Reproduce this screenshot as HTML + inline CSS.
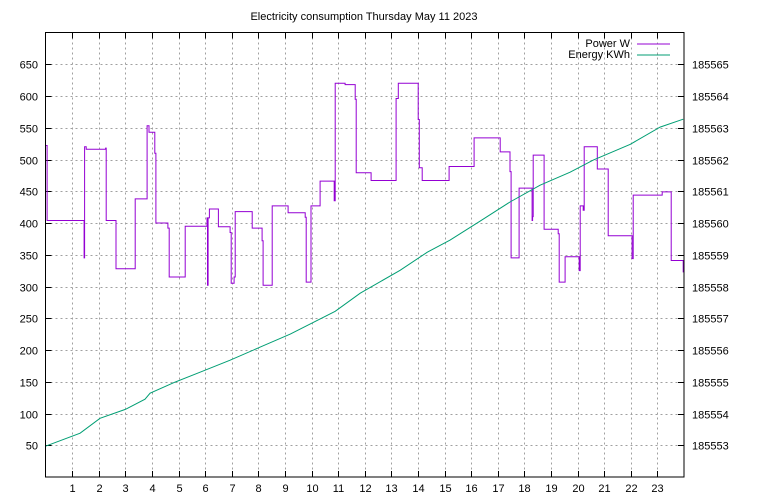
<!DOCTYPE html>
<html><head><meta charset="utf-8"><style>
html,body{margin:0;padding:0;background:#fff;}
svg{display:block;font-family:"Liberation Sans","DejaVu Sans",sans-serif;}
</style></head><body>
<svg id="chart" width="768" height="500" viewBox="0 0 768 500" xmlns="http://www.w3.org/2000/svg">
<rect width="768" height="500" fill="#fff"/>
<text x="364" y="20" font-size="11" text-anchor="middle">Electricity consumption Thursday May 11 2023</text>
<g id="grid"></g>
<g id="axes"></g>
<g id="series"></g>
<rect x="45.5" y="32.5" width="638.5" height="444.5" fill="none" stroke="#000" stroke-width="1"/>
<g>
<text x="630" y="47" font-size="11" text-anchor="end">Power W</text>
<line x1="637" y1="44" x2="670" y2="44" stroke="#9400d3" stroke-width="1"/>
<text x="630" y="58" font-size="11" text-anchor="end">Energy KWh</text>
<line x1="637" y1="55" x2="670" y2="55" stroke="#009e73" stroke-width="1"/>
</g>
</svg>
<script>
const xTicks = [1,2,3,4,5,6,7,8,9,10,11,12,13,14,15,16,17,18,19,20,21,22,23];
const yTicks = [50,100,150,200,250,300,350,400,450,500,550,600,650];
const y2Ticks = [185553,185554,185555,185556,185557,185558,185559,185560,185561,185562,185563,185564,185565];
const powerHours = [0,0.06,1.45,1.47,1.53,2.26,2.28,2.65,3.37,3.82,3.89,4.11,4.15,4.6,4.65,5.25,6.07,6.09,6.11,6.16,6.5,6.94,6.98,7.09,7.13,7.77,8.14,8.18,8.52,9.12,9.76,9.8,9.98,10.32,10.85,10.89,11.26,11.64,11.68,12.24,13.18,13.26,14.01,14.05,14.16,15.17,16.11,17.09,17.46,17.5,17.8,18.29,18.31,18.33,18.74,19.27,19.31,19.53,20.06,20.1,20.21,20.25,20.74,21.15,22.05,22.09,23.18,23.52,23.97];
const powerValues = [522,404,345,520,516,518,404,328,438,553,543,510,400,392,315,395,408,302,408,422,394,385,305,315,418,392,372,302,427,416,409,307,427,466,435,620,618,595,479,467,596,620,563,487,467,489,534,512,481,345,455,404,410,507,390,383,307,347,325,427,420,520,485,380,344,444,449,341,323];
const energyHours = [0,1.3,2.05,3.0,3.74,3.93,4.87,5.81,6.94,8.07,9.2,10.89,11.83,13.33,14.35,15.21,16.34,17.46,18.59,19.72,20.59,21.98,23.1,23.97];
const energyValues = [185552.97,185553.38,185553.85,185554.13,185554.45,185554.64,185554.99,185555.30,185555.68,185556.09,185556.50,185557.22,185557.79,185558.51,185559.08,185559.46,185560.06,185560.66,185561.19,185561.60,185561.98,185562.48,185563.02,185563.27];

const L=45.5,R=684,T=32.5,B=477;
const xs=h=>L+(h/24)*(R-L);
const ys=v=>B-(v/700)*(B-T);
const y2s=v=>B-((v-185552)/14)*(B-T);
const NS='http://www.w3.org/2000/svg';
function mk(tag,attrs,parent){const e=document.createElementNS(NS,tag);for(const k in attrs)e.setAttribute(k,attrs[k]);parent.appendChild(e);return e;}
const grid=document.getElementById('grid'),axes=document.getElementById('axes'),series=document.getElementById('series');

xTicks.forEach(h=>{
  const x=Math.round(xs(h))+0.5;
  const g=mk('line',{x1:x,y1:T,x2:x,y2:B,stroke:'#a0a0a0','stroke-dasharray':'2,3'},grid);
  
  
  const t1=mk('line',{x1:x,y1:B,x2:x,y2:B-6,stroke:'#000'},axes);
  
  
  const t2=mk('line',{x1:x,y1:T,x2:x,y2:T+6,stroke:'#000'},axes);
  
  
  const lb=mk('text',{x:x,y:492,'font-size':11,'text-anchor':'middle'},axes);
  lb.textContent=h;
  
  
});
yTicks.forEach(v=>{
  const y=Math.round(ys(v))+0.5;
  const g=mk('line',{x1:L,y1:y,x2:R,y2:y,stroke:'#a0a0a0','stroke-dasharray':'2,3'},grid);
  
  
  const t=mk('line',{x1:L,y1:y,x2:L+6,y2:y,stroke:'#000'},axes);
  
  
  const lb=mk('text',{x:38,y:y+4,'font-size':11,'text-anchor':'end'},axes);
  lb.textContent=v;
  
  
});
y2Ticks.forEach(v=>{
  const y=Math.round(y2s(v))+0.5;
  const t=mk('line',{x1:R,y1:y,x2:R-6,y2:y,stroke:'#000'},axes);
  
  
  const lb=mk('text',{x:692,y:y+4,'font-size':11,'text-anchor':'start'},axes);
  lb.textContent=v;
  
  
});

// power as steps
let d='';
for(let i=0;i<powerHours.length;i++){
  const x=xs(powerHours[i]).toFixed(1),y=ys(powerValues[i]).toFixed(1);
  if(i===0)d+='M'+x+','+y;else d+='H'+x+'V'+y;
}
d+='H'+xs(24).toFixed(1);
const pp=mk('path',{d:d,fill:'none',stroke:'#9400d3','stroke-width':1},series);



let d2='';
energyHours.forEach((h,i)=>{d2+=(i?'L':'M')+xs(h).toFixed(1)+','+y2s(energyValues[i]).toFixed(1);});
const ep=mk('path',{d:d2,fill:'none',stroke:'#009e73','stroke-width':1},series);


</script>
</body></html>
